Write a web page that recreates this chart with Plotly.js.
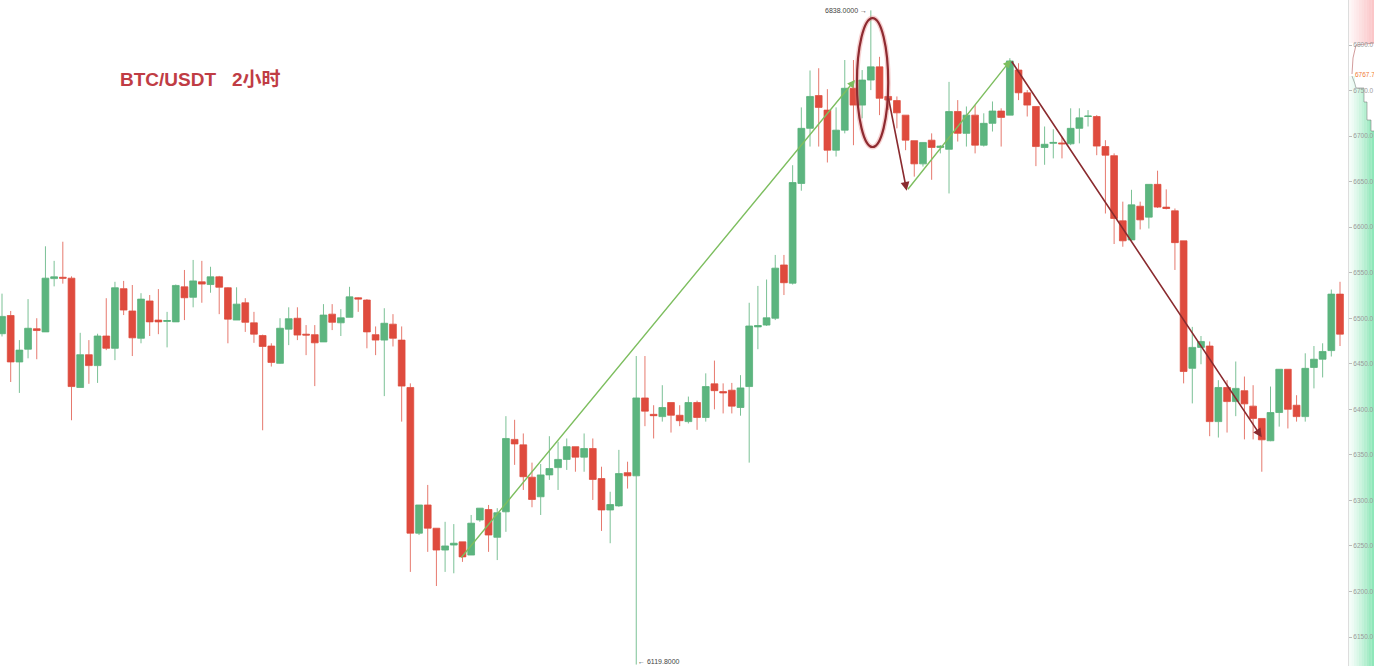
<!DOCTYPE html>
<html>
<head>
<meta charset="utf-8">
<script src="https://cdn.plot.ly/plotly-3.0.1.min.js"></script>
<style>html,body{margin:0;padding:0;background:#fff;}#chart{width:1374px;height:666px;}</style>
</head>
<body>
<div id="chart"></div>
<script>
// BTC/USDT 2h candles
const openP = [6483,6503,6452,6466,6488.5,6485,6543.5,6545,6544,6424,6460,6448,6480.5,6467,6532.5,6508,6478,6519,6498,6496.5,
6496,6534.5,6523,6540,6537,6545.5,6533.5,6498,6517,6495,6481,6469.5,6450.5,6488,6500,6482.5,6482,6474,6504.5,6495,
6501,6522.5,6520,6482,6476,6493.5,6476,6424,6264,6295,6269.5,6245.5,6251,6254.5,6240,6278.5,6290,6259.5,6287.5,6367,
6361,6325.5,6304,6328,6336,6345,6359,6347.5,6357,6324,6289.5,6294,6330.5,6327,6412.5,6394.5,6392,6407.5,6393.5,6386.5,
6407.5,6391,6428,6419.5,6421,6402,6425,6490.5,6492.5,6500,6558.5,6538.5,6648,6708.5,6744.5,6728.5,6684.5,6706.5,6752.5,6734,
6761.5,6776,6743.5,6739,6723,6695,6669.5,6695.5,6687.5,6685.5,6727,6703,6723,6690,6714,6727.5,6723,6772.5,6747.5,6732.5,
6687.5,6692,6692.5,6691.5,6708.5,6721.5,6721.5,6688.5,6678.5,6607,6586,6623,6611,6647,6622,6618,6585,6445,6468,6469.5,
6386.5,6424,6408.5,6420.5,6403.5,6390,6365.5,6396.5,6444,6404.5,6392,6446,6455,6464.5,6526.5];
const highP = [6527,6508,6476,6521,6500,6579,6563,6584,6546,6484,6476,6483,6522,6540,6541,6536.5,6527.5,6525.5,6532,6507,
6537,6553,6564,6563,6556.5,6546.5,6534,6534,6522,6507,6482,6472.5,6500,6512,6512,6492.5,6492.5,6515.5,6515.5,6510,
6534.5,6523,6521,6491,6511,6504.5,6491,6428.5,6295,6317,6269.5,6276.5,6274,6254.5,6284,6291.5,6295,6291.5,6392.5,6388.5,
6373.5,6341.5,6340,6370.5,6364.5,6368,6359,6373.5,6368,6337,6309.5,6355.5,6342.5,6458.5,6458.5,6404.5,6426.5,6407.5,6404.5,6414,
6409.5,6439.5,6453.5,6428.5,6429,6437.5,6517,6535.5,6542.5,6569.5,6569.5,6668,6731.5,6772,6774.5,6751.5,6731.5,6783.5,6783.5,6772.5,
6838,6787,6745,6743.5,6723,6695,6693,6703,6690,6759.5,6739.5,6732.5,6734,6725,6738,6730.5,6785.5,6780,6750.5,6732.5,
6710.5,6707.5,6699.5,6730.5,6730.5,6728.5,6723,6695.5,6681,6628,6641,6628,6647,6662,6641.5,6620.5,6585,6490.5,6480.5,6474.5,
6432,6432,6452.5,6436,6426.5,6390,6425,6444,6444,6415.5,6461.5,6469.5,6472.5,6531.5,6540];
const lowP = [6480,6430,6418,6456,6455,6485,6535,6538,6388,6424,6428,6429,6465,6454,6503.5,6458.5,6472.5,6480.5,6482.5,6468,
6496,6498,6512,6517,6528,6504.5,6472.5,6498,6485,6473,6377,6447,6450,6470.5,6476,6459.5,6425.5,6474,6487,6480.5,
6501,6507,6467,6459.5,6414.5,6469,6386.5,6221.5,6262,6243.5,6206,6221.5,6220,6232.5,6240,6276.5,6243.5,6234.5,6265.5,6339,
6311.5,6292.5,6284,6322.5,6311.5,6333.5,6331.5,6331.5,6300.5,6266.5,6253,6293,6313,6119.8,6381.5,6368,6386.5,6374.5,6381.5,6384.5,
6377.5,6386.5,6400,6395.5,6395.5,6393,6341.5,6466,6491.5,6498,6525.5,6537,6640,6688.5,6688.5,6671,6677.5,6703,6690,6719.5,
6750.5,6723,6728.5,6708.5,6684.5,6655.5,6666.5,6652,6681,6637,6694,6688.5,6681,6688.5,6705,6688.5,6723,6739.5,6721.5,6667,
6668.5,6675.5,6675.5,6690,6692,6710.5,6679,6615,6581.5,6578.5,6585,6597.5,6598.5,6621,6619.5,6553,6428.5,6406.5,6449.5,6370.5,
6369,6374.5,6392.5,6367,6367,6331.5,6365,6381,6379,6386.5,6386.5,6423,6435,6458,6469.5];
const closeP = [6502,6452,6465,6489,6486.5,6544,6545.5,6544,6425,6460,6448,6480.5,6467,6533.5,6509,6478.5,6521,6496,6496,6497.5,
6536,6522.5,6541,6537.5,6545.5,6534,6499,6515.5,6495.5,6482.5,6469,6451.5,6489,6499.5,6481.5,6481.5,6473,6503.5,6495.5,6500.5,
6523.5,6521,6485,6476,6494.5,6478,6425.5,6264,6295,6269.5,6245.5,6250,6253,6238,6275,6291.5,6262,6286.5,6368,6362,
6326,6301,6328,6335,6345,6359,6347.5,6357,6323,6289.5,6295.5,6329.5,6327,6412.5,6398,6393,6402,6393.5,6387.5,6407.5,
6391,6425,6420.5,6418,6403.5,6423.5,6491.5,6492,6500.5,6555,6539,6649,6708.5,6743.5,6731.5,6684.5,6706.5,6752.5,6734,6761.5,
6776,6741.5,6739.5,6725.5,6695.5,6669.5,6693,6687.5,6689,6727,6703,6723,6690,6714,6727.5,6720.5,6782.5,6747.5,6734,6688.5,
6691,6693,6691.5,6708.5,6720,6722,6689,6679,6609.5,6585,6624.5,6608,6647,6622,6620.5,6583,6441.5,6468,6474.5,6386.5,
6424,6408.5,6423,6406,6390,6366.5,6396.5,6444,6400,6392,6445,6455,6463.5,6526.5,6482.5];
const candleIdx = openP.map((_, i) => i);

// annotation values
const peakHigh = 6838.0;
const troughLow = 6119.8;
const lastPrice = 6767.7;
const priceTicks = [6150,6200,6250,6300,6350,6400,6450,6500,6550,6600,6650,6700,6750,6800];
const titleText = 'BTC/USDT\u00a0\u00a0\u00a02小时';

const W = 1348, H = 666;
const px = p => p / W;          // pixel -> paper x
const py = p => 1 - p / H;      // pixel -> paper y

const shapes = [];
// right side depth strip: pink (asks) and green (bids) gradients
const nStrip = 10;
for (let k = 0; k < nStrip; k++) {
  const xa = 1349 + k * 25 / nStrip, xb = 1349 + (k + 1) * 25 / nStrip;
  const t = k / (nStrip - 1);
  const a = 0.06 + 0.55 * Math.pow(t, 1.2);
  shapes.push({type:'rect', xref:'paper', yref:'paper', x0:px(xa), x1:px(xb), y0:py(43), y1:py(0),
    fillcolor:`rgba(245,120,125,${(0.06 + 0.36 * t).toFixed(3)})`, line:{width:0}, layer:'below'});
  shapes.push({type:'rect', xref:'paper', yref:'paper', x0:px(xa), x1:px(xb), y0:py(666), y1:py(76),
    fillcolor:`rgba(70,215,140,${a.toFixed(3)})`, line:{width:0}, layer:'below'});
}
// white stepped mask of the depth area
const mask = [[1355,76],[1374,76],[1374,131],[1371,131],[1371,120],[1367,120],[1367,102],[1364,102],[1364,88],[1356,88],[1355,84]];
shapes.push({type:'path', xref:'paper', yref:'paper', layer:'below',
  path: 'M' + mask.map(q => px(q[0]) + ',' + py(q[1])).join('L') + 'Z', fillcolor:'#ffffff', line:{width:0}});
const step = [[1352,76],[1355,84],[1356,88],[1364,88],[1364,102],[1367,102],[1367,120],[1371,120],[1371,131],[1374,131]];
shapes.push({type:'path', xref:'paper', yref:'paper', layer:'below',
  path: 'M' + step.map(q => px(q[0]) + ',' + py(q[1])).join('L'), line:{width:1, color:'rgba(110,110,110,0.5)'}});
const stepTop = [[1352,74],[1353,58],[1356,45],[1374,43]];
shapes.push({type:'path', xref:'paper', yref:'paper', layer:'below',
  path: 'M' + stepTop.map(q => px(q[0]) + ',' + py(q[1])).join('L'), line:{width:1, color:'rgba(180,90,90,0.6)'}});

// ellipse around the top
shapes.push({type:'circle', xref:'x', yref:'y', x0:98.4, x1:102.0, y0:6688, y1:6829.6,
  line:{color:'rgba(230,120,120,0.35)', width:5}});
shapes.push({type:'circle', xref:'x', yref:'y', x0:98.4, x1:102.0, y0:6688, y1:6829.6,
  line:{color:'#8e2a30', width:2.2}});

const green = 'rgb(125,190,95)', maroon = '#8a2b2f';
const arrow = (x0,y0,x1,y1,c,w) => ({x:x1, y:y1, ax:x0, ay:y0, xref:'x', yref:'y', axref:'x', ayref:'y',
  text:'', showarrow:true, arrowhead:2, arrowsize:1.1, arrowwidth:w, arrowcolor:c, standoff:0, startstandoff:0});

const annotations = [
  arrow(52.72, 6235.6, 98.18, 6761.6, green, 1.4),
  arrow(102.0, 6743.2, 104.13, 6640.0, maroon, 1.6),
  arrow(104.13, 6640.0, 116.1, 6783.5, green, 1.4),
  arrow(116.1, 6783.5, 144.99, 6369.3, maroon, 1.6),
  {x:0.0875, y:py(79), xref:'paper', yref:'paper', xanchor:'left', yanchor:'middle', showarrow:false,
    text:'<b>' + titleText + '</b>', font:{size:19, color:'#c03c44', family:'Liberation Sans, Arial, Noto Sans CJK SC'}},
  {x:99.75, y:peakHigh, xref:'x', yref:'y', xanchor:'right', yanchor:'middle', showarrow:false,
    text: peakHigh.toFixed(4) + ' →', font:{size:7, color:'#444', family:'Liberation Sans, Arial'}},
  {x:73.1, y:0, xref:'x', yref:'paper', xanchor:'left', yanchor:'bottom', showarrow:false, borderpad:0,
    text:'← ' + troughLow.toFixed(4), font:{size:7, color:'#444', family:'Liberation Sans, Arial'}},
  {x:px(1353), y:lastPrice, xref:'paper', yref:'y', xanchor:'left', yanchor:'middle', showarrow:false,
    text: lastPrice.toFixed(1), font:{size:6.5, color:'#f07a35', family:'Liberation Sans, Arial'}}
];

const trace = {
  type:'candlestick', x:candleIdx, open:openP, high:highP, low:lowP, close:closeP,
  increasing:{line:{color:'rgba(90,178,124,0.8)', width:1}, fillcolor:'#5cb57f'},
  decreasing:{line:{color:'rgba(222,76,62,0.75)', width:1}, fillcolor:'#df4b3e'},
  whiskerwidth:0, hoverinfo:'skip', showlegend:false
};

const layout = {
  width:1374, height:666,
  margin:{l:0, r:26, t:0, b:0, pad:0},
  paper_bgcolor:'#ffffff', plot_bgcolor:'rgba(0,0,0,0)',
  showlegend:false,
  boxgap:0.22, boxgroupgap:0,
  xaxis:{range:[-0.23, 154.92], showgrid:false, zeroline:false, showticklabels:false, ticks:'',
    showline:false, rangeslider:{visible:false}, fixedrange:true},
  yaxis:{range:[6118.2, 6849.4], side:'right', showgrid:false, zeroline:false,
    tickvals:priceTicks, ticktext:priceTicks.map(v => v.toFixed(1)),
    ticks:'outside', ticklen:3, tickcolor:'#bbbbbb', tickwidth:1,
    tickfont:{size:6.5, color:'#9a9a9a', family:'Liberation Sans, Arial'},
    showline:true, linecolor:'#dddddd', linewidth:1, fixedrange:true},
  shapes:shapes,
  annotations:annotations
};

Plotly.newPlot('chart', [trace], layout, {displayModeBar:false, staticPlot:true});
</script>
</body>
</html>
